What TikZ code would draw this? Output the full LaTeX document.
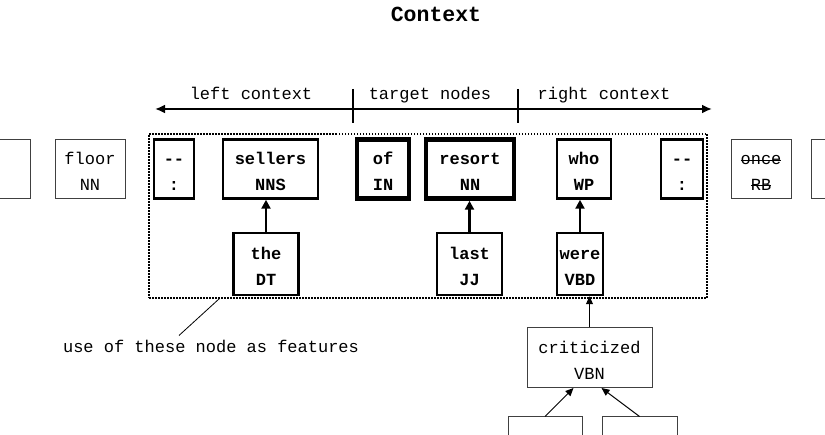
\documentclass[tikz,border=0pt]{standalone}
\usepackage{fontspec}
\setmainfont{Liberation Mono}
\usetikzlibrary{arrows.meta}
\newcommand\twoln[2]{\rule{0pt}{20pt}#1\\#2\rule[-2pt]{0pt}{2pt}}
\newcommand\strikeit[2]{\setbox0\hbox{#1}\rlap{\rule[#2]{\wd0}{0.7pt}}\box0}
\begin{document}
\begin{tikzpicture}[x=1pt,y=-1pt,
  base/.style={font=\fontsize{17}{26}\selectfont, align=center, inner sep=0pt},
  thinbox/.style={base, draw=black!75, line width=1pt},
  boldbox/.style={base, draw=black, line width=2.5pt, font=\fontsize{17}{26}\selectfont\bfseries},
  heavybox/.style={boldbox, line width=4.5pt},
  thickarrow/.style={line width=2.5pt, -{Triangle[length=9pt,width=9pt]}},
  thinarrow/.style={line width=1pt, -{Triangle[length=8pt,width=7pt]}},
  ctxarrow/.style={line width=2pt, {Latex[length=10pt,width=9pt]}-{Latex[length=10pt,width=9pt]}}
]
\useasboundingbox (0,0) rectangle (825,435);

% title
\node[font=\fontsize{21.5}{26}\selectfont\bfseries, anchor=base, inner sep=0pt] (title) at (436,22) {Context};

% context arrow
\coordinate (la) at (155,109);
\coordinate (ra) at (712,109);
\draw[ctxarrow] (la) -- (ra);
\draw[line width=2pt] (353,89) -- (353,123);
\draw[line width=2pt] (518,89) -- (518,123);
\node[base, anchor=base] (lc) at (251,100) {left context};
\node[base, anchor=base] (tn) at (430,100) {target nodes};
\node[base, anchor=base] (rc) at (604,100) {right context};

% feature frame
\node[draw, dash pattern=on 1.5pt off 1.5pt, line width=1.2pt, minimum width=558pt, minimum height=164pt, inner sep=0pt] (feat) at (428,216) {};

% top row
\node[thinbox, minimum width=50pt, minimum height=59pt] (lp) at (5,169) {};
\node[thinbox, minimum width=70pt, minimum height=59pt] (floor) at (90,169) {\twoln{floor}{NN}};
\node[boldbox, minimum width=40pt, minimum height=59pt] (d1) at (174,169) {\twoln{\mbox{-}\mbox{-}}{:}};
\node[boldbox, minimum width=95pt, minimum height=59pt] (sellers) at (270.5,169) {\twoln{sellers}{NNS}};
\node[heavybox, minimum width=52pt, minimum height=59pt] (of) at (383,169) {\twoln{of}{IN}};
\node[heavybox, minimum width=88pt, minimum height=59pt] (resort) at (470,169) {\twoln{resort}{NN}};
\node[boldbox, minimum width=54pt, minimum height=59pt] (who) at (584,169) {\twoln{who}{WP}};
\node[boldbox, minimum width=42pt, minimum height=59pt] (d2) at (682,169) {\twoln{\mbox{-}\mbox{-}}{:}};
\node[thinbox, minimum width=60pt, minimum height=59pt] (once) at (761,169) {\twoln{\strikeit{once}{4.6pt}}{\strikeit{RB}{5.5pt}}};
\node[thinbox, minimum width=50pt, minimum height=59pt] (rp) at (836,169) {};

% second row
\node[boldbox, minimum width=65pt, minimum height=62pt] (the) at (266,264) {\twoln{the}{DT}};
\node[boldbox, minimum width=65pt, minimum height=62pt] (last) at (469.5,264) {\twoln{last}{JJ}};
\node[boldbox, minimum width=46pt, minimum height=62pt] (were) at (580,264) {\twoln{were}{VBD}};

% lower nodes
\node[thinbox, minimum width=125pt, minimum height=60pt] (crit) at (589.5,357.5) {\twoln{criticized}{VBN}};
\node[thinbox, minimum width=74pt, minimum height=46pt] (b1) at (545,440) {};
\node[thinbox, minimum width=75pt, minimum height=46pt] (b2) at (639.5,440) {};

% arrows
\draw[thickarrow] (the.north) -- (the.north |- sellers.south);
\draw[thickarrow] (last.north) -- (last.north |- resort.south);
\draw[thickarrow] (were.north) -- (were.north |- who.south);
\draw[thinarrow] (crit.north) -- (crit.north |- were.south);
\draw[thinarrow] (b1.north) -- ([xshift=-16pt]crit.south);
\draw[thinarrow] (b2.north) -- ([xshift=12pt]crit.south);

% annotation
\node[base, anchor=base] (note) at (211,353) {use of these node as features};
\draw[line width=0.8pt] ([xshift=71pt]feat.south west) -- ([xshift=-32pt,yshift=5pt]note.north);
\end{tikzpicture}
\end{document}
